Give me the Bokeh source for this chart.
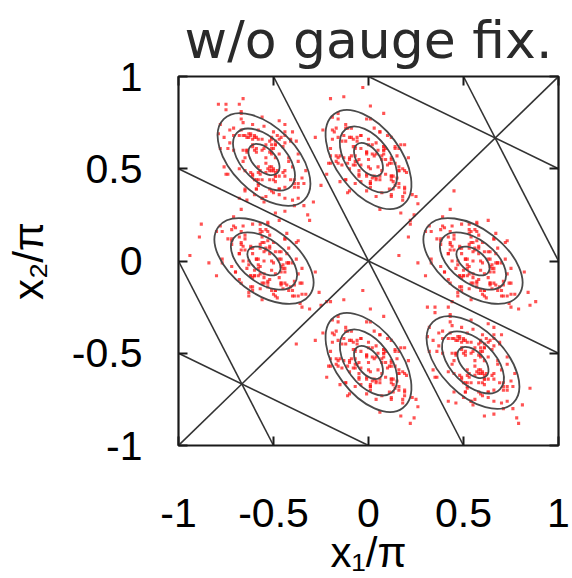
import numpy as np
from bokeh.plotting import figure
from bokeh.models import ColumnDataSource, FixedTicker, LinearAxis, Range1d
from bokeh.embed import file_html
from bokeh.resources import INLINE

# ---------------- data (x/pi units) ----------------
tick_values = [-1, -0.5, 0, 0.5, 1]
tick_labels = ["-1", "-0.5", "0", "0.5", "1"]

# straight boundary lines: start / end points
line_x0 = [-0.5, -1.0, -1.0, 0.0, 0.5, -1.0, -1.0]
line_y0 = [1.0, 0.5, -1.0, 1.0, 1.0, 0.0, -0.5]
line_x1 = [0.5, 1.0, 1.0, 1.0, 1.0, -0.5, 0.0]
line_y1 = [-1.0, -0.5, 1.0, 0.5, 0.0, -1.0, -1.0]

# six clusters: centre and tilt of the contour ellipses
cluster_x = [-0.55, 0.0, -0.55, 0.55, 0.0, 0.55]
cluster_y = [0.55, 0.55, 0.0, 0.0, -0.55, -0.55]
cluster_angle = [-45, -53, -37, -37, -53, -45]
contour_major = [0.60, 0.40, 0.20]
contour_minor = [0.35, 0.235, 0.12]

# sample points, offsets from a cluster centre (hundredths of x/pi)
dx_tl = [1,-2,3,5,-6,1,4,4,-9,22,-19,4,6,5,-2,-8,6,-11,7,-10,15,-9,10,8,-4,11,-1,-8,11,-12,2,-4,-1,-1,13,-18,16,-19,6,0,-7,14,-12,1,9,8,-16,30,-23,-4,1,5,8,-3,16,-23,8,-5,11,-1,5,6,-21,26,-20,1,-9,-12,18,24,-24,11,-3,-9,20,-16,-13,3,11,18]
dy_tl = [1,-6,10,-6,11,-20,6,-4,4,-6,6,3,-9,15,-8,12,-29,20,-6,-6,-4,5,7,-16,4,13,-11,14,-28,26,-5,12,-21,5,-1,9,-15,-8,1,18,-7,-11,22,-7,12,-9,5,-14,19,-16,8,-18,21,-4,-11,6,3,5,-21,23,-11,8,-4,-23,27,-2,-22,25,-1,-33,30,15,-13,5,-10,17,-21,-16,19,-21]
dx_tm = [3,0,-11,10,-6,18,-7,5,-17,16,-13,8,6,-9,14,-8,6,-12,12,-5,16,-8,-12,15,-10,2,15,-14,18,-24,9,-21,12,-1,14,-16,12,6,-5,-4,0,20,-19,-7,12,9,-12,25,-19,-11,2,12,-13,9,7,-11,17,-10,12,1,4,5,-17,26,-3,-5,7,-28,16,22,-20,-7,12,-20,13,-18,16,-1,0,18]
dy_tm = [2,-4,-2,-3,10,-5,-3,-4,-1,-13,13,5,-9,2,6,11,-27,19,-2,0,-4,7,-11,-10,0,3,2,10,-22,16,0,-2,-9,4,-2,12,-19,15,-8,13,0,-7,16,-13,12,-8,10,-20,23,-18,8,-11,1,6,-18,17,8,1,-20,22,-11,5,2,-24,39,-6,-6,12,-6,-33,33,-1,0,-2,-16,15,6,-17,8,-20]
dx_ml = [-2,4,2,3,-10,5,3,4,1,13,-13,-5,9,-2,-6,-11,27,-19,2,0,4,-7,11,10,0,-3,-2,-10,22,-16,0,2,9,-4,2,-12,19,-15,8,-13,0,7,-16,13,-12,8,-10,20,-23,18,-8,11,-1,-6,18,-17,-8,-1,20,-22,11,-5,-2,24,-39,6,6,-12,6,33,-33,1,0,2,16,-15,-6,17,-8,20]
dy_ml = [-3,0,11,-10,6,-18,7,-5,17,-16,13,-8,-6,9,-14,8,-6,12,-12,5,-16,8,12,-15,10,-2,-15,14,-18,24,-9,21,-12,1,-14,16,-12,-6,5,4,0,-20,19,7,-12,-9,12,-25,19,11,-2,-12,13,-9,-7,11,-17,10,-12,-1,-4,-5,17,-26,3,5,-7,28,-16,-22,20,7,-12,20,-13,18,-16,1,0,-18]
dx_mr = [-4,9,-5,-7,9,3,-2,-12,10,-7,20,-13,5,-15,13,-17,11,15,-3,-2,2,-17,6,3,-6,-1,3,18,-6,-1,-6,0,-2,14,-9,12,-17,12,9,-17,12,-25,19,-2,-7,-12,15,-7,9,2,16,-11,-8,1,12,-1,-3,-22,13,-13,29,-34,17,-12,-3,16,8,6,-22,8,15,-29,5,10,-11,30,-10,9,-25,11]
dy_mr = [1,1,-8,7,-12,14,-7,9,-2,-8,-4,4,-1,-6,-1,9,12,-19,1,15,-11,17,-19,4,4,-21,8,-19,20,-12,7,-7,20,-14,-4,-1,12,15,-13,-3,4,16,-23,7,-14,10,-1,-8,-3,16,-19,19,-19,6,-13,16,-8,16,-1,-10,-17,13,10,6,-4,-11,22,-16,1,1,-16,-1,10,-4,0,-24,38,5,-8,-6]
dx_bm = [-1,-1,8,-7,12,-14,7,-9,2,8,4,-4,1,6,1,-9,-12,19,-1,-15,11,-17,19,-4,-4,21,-8,19,-20,12,-7,7,-20,14,4,1,-12,-15,13,3,-4,-16,23,-7,14,-10,1,8,3,-16,19,-19,19,-6,13,-16,8,-16,1,10,17,-13,-10,-6,4,11,-22,16,-1,-1,16,1,-10,4,0,24,-38,-5,8,6]
dy_bm = [4,-9,5,7,-9,-3,2,12,-10,7,-20,13,-5,15,-13,17,-11,-15,3,2,-2,17,-6,-3,6,1,-3,-18,6,1,6,0,2,-14,9,-12,17,-12,-9,17,-12,25,-19,2,7,12,-15,7,-9,-2,-16,11,8,-1,-12,1,3,22,-13,13,-29,34,-17,12,3,-16,-8,-6,22,-8,-15,29,-5,-10,11,-30,10,-9,25,-11]
dx_br = [0,4,-6,-3,11,4,-3,-9,-4,3,11,-3,3,-10,18,-13,-6,18,4,-11,13,-18,0,4,-11,11,8,15,-11,-3,-1,-10,-7,16,4,3,-16,11,4,-5,5,-13,16,-13,14,-10,6,5,6,-20,21,-12,-4,6,8,-6,14,-24,6,7,21,-20,-3,-5,15,8,-4,-1,-6,3,18,-21,6,-5,-6,23,-11,-5,-7,10]
dy_br = [6,-6,-8,11,-9,12,-7,12,-16,4,-15,16,-4,1,3,13,-9,-15,8,5,1,16,-23,4,-1,-6,11,-22,13,-11,11,-16,13,-13,11,-11,13,9,-17,12,-5,30,-25,-5,10,13,-12,6,-7,-8,-13,16,-11,10,-16,8,11,14,-9,13,-25,30,-14,13,15,-19,6,-21,19,-6,-13,12,8,-19,7,-30,33,-11,14,-7]

# each cluster is drawn with its own sample plus the sample of the cluster
# that has the same tilt (TL/BR, TM/BM, ML/MR)
dots_dx = [dx_tl + dx_br, dx_tm + dx_bm, dx_ml + dx_mr, dx_mr + dx_ml, dx_bm + dx_tm, dx_br + dx_tl]
dots_dy = [dy_tl + dy_br, dy_tm + dy_bm, dy_ml + dy_mr, dy_mr + dy_ml, dy_bm + dy_tm, dy_br + dy_tl]

title_text = "w/o gauge fix."
x_label = "x\u2081/\u03c0"
y_label = "x\u2082/\u03c0"

# ---------------- sources ----------------
px, py = [], []
for cx, cy, ddx, ddy in zip(cluster_x, cluster_y, dots_dx, dots_dy):
    px += [cx + d / 100.0 for d in ddx]
    py += [cy + d / 100.0 for d in ddy]
dots_src = ColumnDataSource(dict(x=px, y=py))

ex, ey, ew, eh, ea = [], [], [], [], []
for cx, cy, ang in zip(cluster_x, cluster_y, cluster_angle):
    for w, h in zip(contour_major, contour_minor):
        ex.append(cx); ey.append(cy); ew.append(w); eh.append(h); ea.append(ang)
ell_src = ColumnDataSource(dict(x=ex, y=ey, w=ew, h=eh, a=ea))

seg_src = ColumnDataSource(dict(x0=line_x0, y0=line_y0, x1=line_x1, y1=line_y1))

# ---------------- figure ----------------
p = figure(width=572, height=578, x_range=Range1d(-1, 1), y_range=Range1d(-1, 1),
           output_backend="svg", toolbar_location=None,
           min_border_left=178, min_border_right=14, min_border_top=72, min_border_bottom=130)
p.grid.visible = False
p.outline_line_color = "#1a1a1a"
p.outline_line_width = 2.2
p.background_fill_color = "white"
p.border_fill_color = "white"

p.title.text = title_text
p.title.align = "center"
p.title.offset = 5
p.title.standoff = 14
p.title.text_line_height = 0.8
p.title.text_font = "DejaVu Sans"
p.title.text_font_size = "52px"
p.title.text_font_style = "normal"
p.title.text_color = "#2a2a2a"

TICK_FONT = "Liberation Sans"
overrides = {v: s for v, s in zip(tick_values, tick_labels)}

def style_axis(ax, labels=True, standoff=0):
    ax.ticker = FixedTicker(ticks=tick_values)
    ax.axis_line_color = None
    ax.major_tick_in = 9
    ax.major_tick_out = 0
    ax.major_tick_line_width = 2
    ax.major_tick_line_color = "#1a1a1a"
    ax.minor_tick_line_color = None
    if labels:
        ax.major_label_overrides = overrides
        ax.major_label_text_font = TICK_FONT
        ax.major_label_text_font_size = "41px"
        ax.major_label_text_color = "black"
        ax.major_label_standoff = standoff
        ax.axis_label_text_font = TICK_FONT
        ax.axis_label_text_font_size = "42px"
        ax.axis_label_text_font_style = "normal"
        ax.axis_label_text_color = "black"
    else:
        ax.major_label_overrides = {v: "" for v in tick_values}
        ax.major_label_text_font_size = "1px"
        ax.major_label_standoff = 0

xa = p.xaxis[0]
ya = p.yaxis[0]
style_axis(xa, True, 53)
style_axis(ya, True, 36)
ya.major_label_orientation = "horizontal"
xa.axis_label = x_label
ya.axis_label = y_label
xa.axis_label_standoff = -1
ya.axis_label_standoff = 17

top_ax = LinearAxis()
right_ax = LinearAxis()
style_axis(top_ax, False)
style_axis(right_ax, False)
p.add_layout(top_ax, "above")
p.add_layout(right_ax, "right")

# ---------------- marks ----------------
p.scatter("x", "y", source=dots_src, marker="square", size=3.1,
          fill_color="#ff1a1a", fill_alpha=0.75, line_color=None)
p.ellipse(x="x", y="y", width="w", height="h", angle="a", angle_units="deg",
          source=ell_src, fill_color=None, line_color="#4a4a4a", line_width=1.8)
p.segment(x0="x0", y0="y0", x1="x1", y1="y1", source=seg_src,
          line_color="#333333", line_width=1.6)

open("out.html", "w").write(file_html(p, INLINE))
